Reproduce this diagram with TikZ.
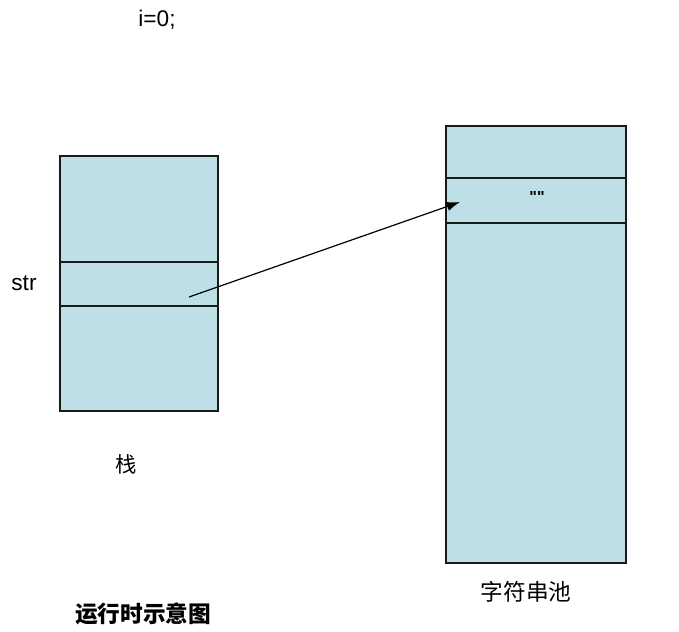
\documentclass[tikz,border=0pt]{standalone}
\usepackage{fontspec}
\setmainfont{Liberation Sans}
\newfontfamily\plainsans{Liberation Sans}[Ligatures=TeXOff]
\newfontfamily\cjk{Noto Sans CJK SC}
\usepackage{tikz}
\usetikzlibrary{positioning,arrows.meta}
\definecolor{MemBlue}{HTML}{BDE0E6}
\definecolor{MemLine}{HTML}{1A1A1A}

\begin{document}
\begin{tikzpicture}[x=0.75pt,y=-0.75pt,>={Latex[length=10pt,width=7pt]},
 cell/.style={draw=MemLine,fill=MemBlue,line width=0.8pt,inner sep=0pt,outer sep=0pt,anchor=north west},
 lbl/.style={font=\fontsize{17}{20}\selectfont,text=black},
 cjklbl/.style={font=\cjk\fontsize{16}{19}\selectfont,text=black}]
\useasboundingbox (0,0) rectangle (679,632);
% stack
\node[cell,minimum width=118.5pt,minimum height=79.5pt] (stacktop) at (60,156) {};
\node[cell,minimum width=118.5pt,minimum height=33pt,below=0pt of stacktop.south west,anchor=north west] (strcell) {};
\node[cell,minimum width=118.5pt,minimum height=78.75pt,below=0pt of strcell.south west,anchor=north west] (stackbot) {};
% string pool
\node[cell,minimum width=135pt,minimum height=39pt] (pooltop) at (446,126) {};
\node[cell,minimum width=135pt,minimum height=33.75pt,below=0pt of pooltop.south west,anchor=north west] (emptycell) {};
\node[cell,minimum width=135pt,minimum height=255pt,below=0pt of emptycell.south west,anchor=north west] (poolbot) {};
% labels
\node[lbl] (code) at (157,20) {i=0;};
\node[lbl] (strlbl) at (24,283) {str};
\node[lbl,font=\plainsans\bfseries\fontsize{12}{14}\selectfont] (emptystr) at (537,197) {""};
\node[cjklbl] (stacklbl) at (126,464) {栈};
\node[cjklbl,font=\cjk\fontsize{17}{20}\selectfont] (poollbl) at (526,592) {字符串池};
\node[cjklbl,font=\cjk\bfseries\fontsize{17}{20}\selectfont] (title) at (143,614) {运行时示意图};
% reference
\coordinate (ptr) at (189,297);
\coordinate (target) at (460,202);
\draw[->,line width=0.9pt] (ptr) -- (target);
\end{tikzpicture}
\end{document}
